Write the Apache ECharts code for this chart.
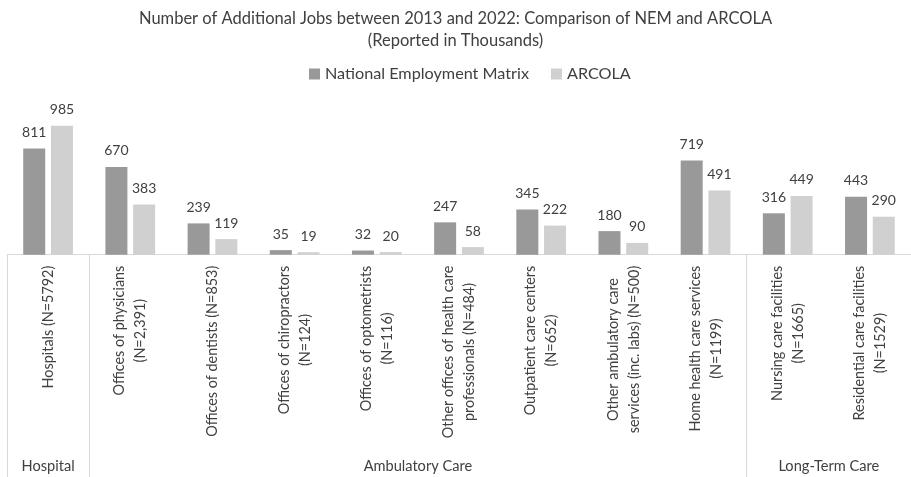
<!DOCTYPE html>
<html>
<head>
<meta charset="utf-8">
<script src="https://cdn.jsdelivr.net/npm/echarts@6/dist/echarts.min.js"></script>
<style>html,body{margin:0;padding:0;background:#fff}#c{width:911px;height:477px}</style>
</head>
<body>
<div id="c"></div>
<script>
var categories = [
  "Hospitals (N=5792)",
  "Offices of physicians\n(N=2,391)",
  "Offices of dentists (N=853)",
  "Offices of chiropractors\n(N=124)",
  "Offices of optometrists\n(N=116)",
  "Other offices of health care\nprofessionals (N=484)",
  "Outpatient care centers\n(N=652)",
  "Other ambulatory care\nservices (inc. labs) (N=500)",
  "Home health care services\n(N=1199)",
  "Nursing care facilities\n(N=1665)",
  "Residential care facilities\n(N=1529)"
];
var nemValues = [811, 670, 239, 35, 32, 247, 345, 180, 719, 316, 443];
var arcolaValues = [985, 383, 119, 19, 20, 58, 222, 90, 491, 449, 290];
var seriesNames = ["National Employment Matrix", "ARCOLA"];
var groupNames = ["Hospital", "Ambulatory Care", "Long-Term Care"];
var groupCenters = [0.5, 5, 10];
var groupBounds = [0, 1, 9, 11];

var FONT = "Lato";
var TXT = "#404040";
var LABEL_SIZE = 14.4;
var LABEL_LH = 21;

// centre the lines of each rotated category label: lines are end-aligned,
// so a trailing spacer of half the width difference centres the shorter line
var ctx = document.createElement("canvas").getContext("2d");
ctx.font = LABEL_SIZE + "px " + FONT;
var rich = { t: { fontFamily: FONT, fontSize: LABEL_SIZE, color: TXT, lineHeight: LABEL_LH } };
var labelTexts = {};
categories.forEach(function (cat, i) {
  var lines = cat.split("\n");
  var widths = lines.map(function (s) { return ctx.measureText(s).width; });
  var maxW = Math.max.apply(null, widths);
  labelTexts[cat] = lines.map(function (s, j) {
    var pad = (maxW - widths[j]) / 2;
    var str = "{t|" + s + "}";
    if (pad > 0.5) {
      var name = "s" + i + "_" + j;
      rich[name] = { fontFamily: FONT, fontSize: LABEL_SIZE, lineHeight: LABEL_LH, width: pad };
      str += "{" + name + "| }";
    }
    return str;
  }).join("\n");
});

var chart = echarts.init(document.getElementById("c"));
chart.setOption({
  animation: false,
  textStyle: { fontFamily: FONT, color: TXT },
  title: {
    text: "Number of Additional Jobs between 2013 and 2022: Comparison of NEM and ARCOLA\n(Reported in Thousands)",
    left: "center", top: 3,
    textStyle: { fontFamily: FONT, fontSize: 16.5, fontWeight: "normal", color: TXT, lineHeight: 22 }
  },
  legend: {
    top: 61, left: 304, icon: "rect", itemWidth: 11, itemHeight: 11, itemGap: 22,
    textStyle: { fontFamily: FONT, fontSize: 16.2, color: TXT },
    data: seriesNames
  },
  grid: { left: 7, width: 907, top: 123.7, bottom: 222.3, containLabel: false },
  xAxis: [{
    type: "category", data: categories,
    axisLine: { show: true, lineStyle: { color: "#d9d9d9", width: 1 } },
    axisTick: { show: false },
    axisLabel: {
      interval: 0, rotate: 90, margin: 11, color: TXT, fontFamily: FONT, fontSize: LABEL_SIZE,
      lineHeight: LABEL_LH,
      formatter: function (v) { return labelTexts[v]; },
      rich: rich
    }
  }, {
    type: "value", min: 0, max: 11, position: "bottom", offset: 0,
    axisLine: { show: false }, splitLine: { show: false },
    axisTick: { show: true, customValues: groupBounds, length: 223, lineStyle: { color: "#d9d9d9", width: 1 } },
    axisLabel: {
      customValues: groupCenters, margin: 204, color: TXT, fontFamily: FONT, fontSize: 14.6,
      formatter: function (v) { return groupNames[groupCenters.indexOf(v)]; }
    }
  }],
  yAxis: { type: "value", min: 0, max: 1000, show: false },
  series: [{
    name: seriesNames[0], type: "bar", data: nemValues, barWidth: 22, barGap: "26%",
    itemStyle: { color: "#999999" },
    label: { show: true, position: "top", distance: 9, fontFamily: FONT, fontSize: 14, color: TXT }
  }, {
    name: seriesNames[1], type: "bar", data: arcolaValues, barWidth: 22, barGap: "26%",
    itemStyle: { color: "#d0d0d0" },
    label: { show: true, position: "top", distance: 9, fontFamily: FONT, fontSize: 14, color: TXT }
  }]
});
</script>
</body>
</html>
